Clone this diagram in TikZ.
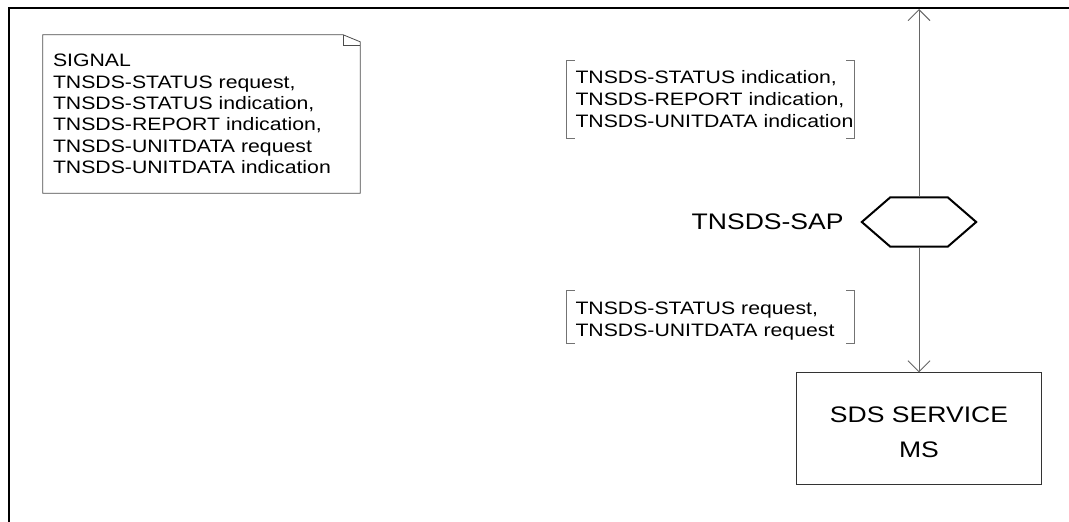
\documentclass[tikz,border=0pt]{standalone}
\usepackage{fontspec}
\setmainfont{Liberation Sans}[FakeStretch=1.18]
\usetikzlibrary{arrows.meta,positioning}
\newcommand{\notefont}{\fontsize{18}{21.3}\selectfont}
\newcommand{\sigfont}{\fontsize{18}{22}\selectfont}
\newcommand{\blkfont}{\fontsize{22.5}{35}\selectfont}

\begin{document}
\begin{tikzpicture}[x=1pt, y=-1pt, >={Straight Barb[length=11pt, width=22pt]}, draw=black!60]
      \tikzstyle{frame line}=[draw=black, line width=2.8pt]
      \tikzstyle{signal list}=[font=\sigfont, align=left, inner ysep=0pt]
      \tikzstyle{note}=[signal list, font=\notefont, text width=297pt, inner xsep=10pt, minimum height=158pt]
      \tikzstyle{note line}=[draw=black!70, line width=0.8pt]
      \tikzstyle{bracket label}=[signal list, text width=270pt, inner xsep=8.5pt]
      \tikzstyle{bracket}=[draw=black!55, line width=0.8pt]
      \tikzstyle{sap}=[minimum width=114pt, minimum height=49pt, inner sep=0pt]
      \tikzstyle{sap line}=[draw=black, line width=2pt]
      \tikzstyle{block}=[draw=black!80, line width=0.9pt, font=\blkfont, align=center, minimum width=245pt, minimum height=112pt]
      \tikzstyle{signal route}=[draw=black!60, line width=0.9pt]

      \useasboundingbox (0,0) rectangle (1069,522);
      \draw[frame line] (9,522) -- (9,8) -- (1069,8);
      \coordinate (top) at (919,9);

      \node[note] (signal) at (201.5,114) {SIGNAL\\TNSDS-STATUS request,\\TNSDS-STATUS indication,\\TNSDS-REPORT indication,\\TNSDS-UNITDATA request\\TNSDS-UNITDATA indication};
      \draw[note line] (signal.south west) -- (signal.north west) -- ([xshift=-17pt]signal.north east) -- ([yshift=-7pt]signal.north east) -- (signal.south east) -- cycle;
      \draw[note line] ([xshift=-17pt]signal.north east) -- ([xshift=-17pt, yshift=-11pt]signal.north east) -- ([yshift=-11pt]signal.north east);

      \node[bracket label, minimum height=77pt] (uplist) at (710.5,99.5) {TNSDS-STATUS indication,\\TNSDS-REPORT indication,\\\mbox{TNSDS-UNITDATA indication}};
      \draw[bracket] ([xshift=8pt]uplist.north west) -- (uplist.north west) -- (uplist.south west) -- ([xshift=8pt]uplist.south west);
      \draw[bracket] ([xshift=-8pt]uplist.north east) -- (uplist.north east) -- (uplist.south east) -- ([xshift=-8pt]uplist.south east);

      \node[bracket label, minimum height=52pt] (downlist) at (710.5,316.7) {\rule{0pt}{22pt}TNSDS-STATUS request,\\TNSDS-UNITDATA request};
      \draw[bracket] ([xshift=8pt]downlist.north west) -- (downlist.north west) -- (downlist.south west) -- ([xshift=8pt]downlist.south west);
      \draw[bracket] ([xshift=-8pt]downlist.north east) -- (downlist.north east) -- (downlist.south east) -- ([xshift=-8pt]downlist.south east);

      \node[sap] (sap) at (919,222) {};
      \draw[sap line] (sap.west) -- ([xshift=28.5pt]sap.north west) -- ([xshift=-28.5pt]sap.north east) -- (sap.east) -- ([xshift=-28.5pt]sap.south east) -- ([xshift=28.5pt]sap.south west) -- cycle;
      \node[font=\blkfont, inner sep=0pt, left=18pt of sap] (saplabel) {TNSDS-SAP};

      \node[block] (sds) at (919,428.8) {\rule{0pt}{23pt}SDS SERVICE\\MS};

      \path (sap.north) edge [signal route, ->] (top);
      \path (sap.south) edge [signal route, ->] (sds.north);
  \end{tikzpicture}
\end{document}
